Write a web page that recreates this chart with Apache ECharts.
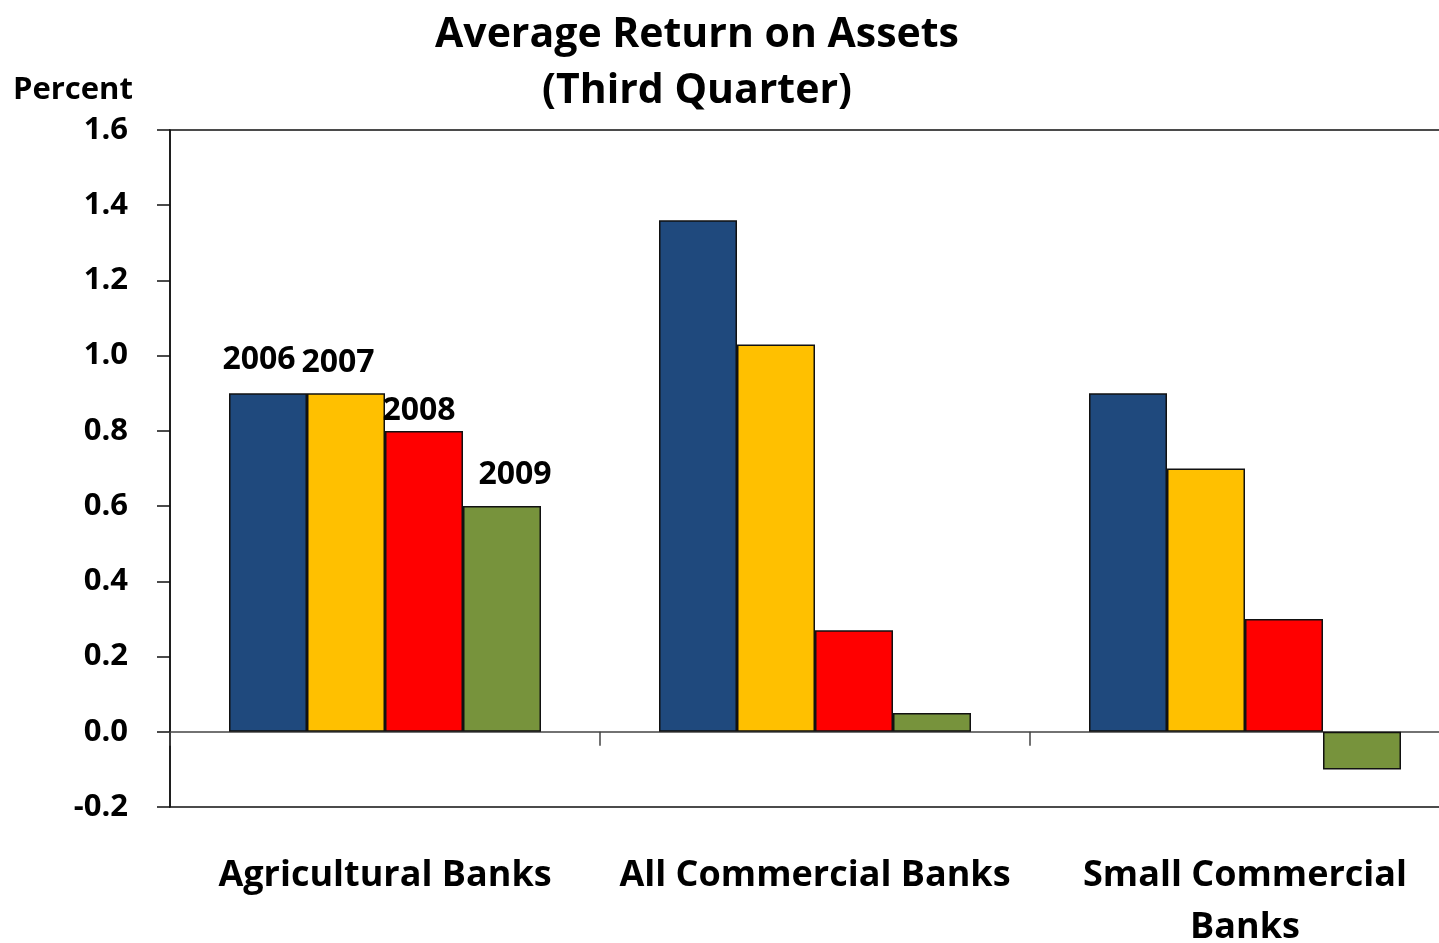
<!DOCTYPE html>
<html>
<head>
<meta charset="utf-8">
<title>Average Return on Assets</title>
<script src="https://cdn.jsdelivr.net/npm/echarts@6/dist/echarts.min.js"></script>
<style>
  html, body { margin: 0; padding: 0; background: #fff; }
  #chart { width: 1439px; height: 943px; }
</style>
</head>
<body>
<div id="chart"></div>
<script>
// Bank groups along the horizontal axis
const categories = ['Agricultural Banks', 'All Commercial Banks', 'Small Commercial\nBanks'];
// Years shown as series
const years = ['2006', '2007', '2008', '2009'];
// Return on assets, percent, third quarter of each year
const roa2006 = [0.90, 1.36, 0.90];
const roa2007 = [0.90, 1.03, 0.70];
const roa2008 = [0.80, 0.27, 0.30];
const roa2009 = [0.60, 0.05, -0.10];
// Y axis ticks
const yTicks = [-0.2, 0.0, 0.2, 0.4, 0.6, 0.8, 1.0, 1.2, 1.4, 1.6];

const FONT = '"Open Sans", "Noto Sans", sans-serif';
const colors = ['#1F497D', '#FFC000', '#FF0000', '#77933C'];
const seriesValues = [roa2006, roa2007, roa2008, roa2009];
// Year labels sit over the first group only
const yearLabelOffsets = [[-9, -12], [-8, -9], [-5, 1], [13, -10]];

const chart = echarts.init(document.getElementById('chart'), null, { renderer: 'canvas' });

const series = seriesValues.map((vals, si) => ({
  name: years[si],
  type: 'bar',
  xAxisIndex: 0,
  barWidth: 78,
  barGap: '0%',
  itemStyle: { color: colors[si], borderColor: '#111', borderWidth: 1.5 },
  data: vals.map((v, i) => i === 0 ? {
    value: v,
    label: {
      show: true,
      position: 'top',
      formatter: years[si],
      offset: yearLabelOffsets[si],
      fontFamily: FONT,
      fontWeight: 'bold',
      fontSize: 32,
      color: '#000'
    }
  } : v),
  animation: false
}));

chart.setOption({
  animation: false,
  title: {
    text: 'Average Return on Assets\n(Third Quarter)',
    left: 692,
    textAlign: 'center',
    top: 2,
    textStyle: {
      fontFamily: FONT,
      fontWeight: 'bold',
      fontSize: 41,
      lineHeight: 56,
      color: '#000'
    }
  },
  graphic: [{
    type: 'text',
    left: 13,
    top: 75,
    style: {
      text: 'Percent',
      font: 'bold 31px ' + FONT,
      fill: '#000'
    }
  }],
  grid: {
    left: 170,
    top: 130,
    width: 1290,
    height: 677,
    outerBoundsMode: 'none',
    containLabel: false,
    show: true,
    borderColor: '#111',
    borderWidth: 1.5,
    backgroundColor: 'transparent'
  },
  xAxis: [{
    type: 'category',
    data: categories,
    axisLine: { show: true, onZero: true, lineStyle: { color: '#444', width: 1.5 } },
    axisTick: { show: true, length: 14, inside: false, lineStyle: { color: '#444', width: 1.5 } },
    axisLabel: { show: false },
    splitLine: { show: false }
  }, {
    type: 'category',
    data: categories,
    position: 'bottom',
    axisLine: { show: false },
    axisTick: { show: false },
    axisLabel: {
      show: true,
      margin: 43,
      fontFamily: FONT,
      fontWeight: 'bold',
      fontSize: 36,
      lineHeight: 52,
      color: '#000',
      interval: 0
    },
    splitLine: { show: false }
  }],
  yAxis: {
    type: 'value',
    min: yTicks[0],
    max: yTicks[yTicks.length - 1],
    interval: 0.2,
    axisLine: { show: true, lineStyle: { color: '#111', width: 1.5 } },
    axisTick: { show: true, length: 13, lineStyle: { color: '#111', width: 1.5 } },
    axisLabel: {
      margin: 42,
      fontFamily: FONT,
      fontWeight: 'bold',
      fontSize: 31,
      color: '#000',
      formatter: v => v.toFixed(1)
    },
    splitLine: { show: false }
  },
  series: series
});
</script>
</body>
</html>
